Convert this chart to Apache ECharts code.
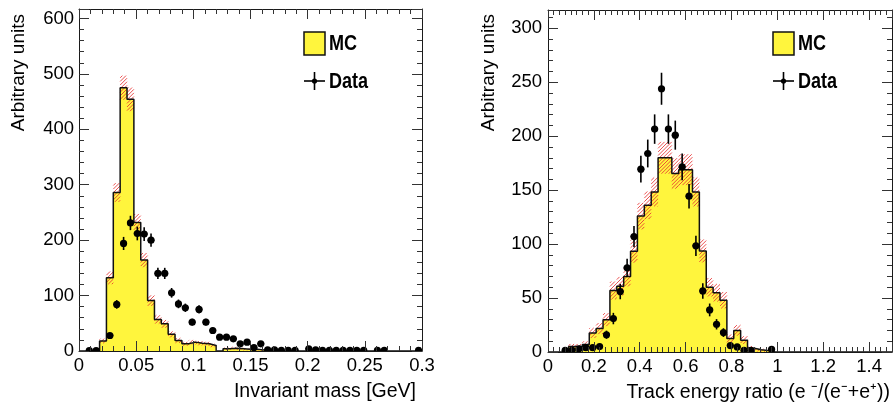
<!DOCTYPE html>
<html><head><meta charset="utf-8">
<script src="https://cdn.jsdelivr.net/npm/echarts@6/dist/echarts.min.js"></script>
<style>html,body{margin:0;padding:0;background:#fff}#c{width:894px;height:406px}</style>
</head><body><div id="c"></div>
<script>
// ---------- data ----------
// Invariant mass: 50 bins of width 0.006 GeV, starting at 0
const massBinWidth = 0.006;
const massMC = [0,0,0,18,132,286,475,454,232,164,
                91,57,49,30,19,13,16,14,13,10,
                0,4,5,4,3,3,2,0,0,0,
                0,0,0,0,0,0,0,0,0,0,
                0,0,0,0,0,0,0,0,0,0];
const massData = [null,0.5,0.5,null,28,84,194,231,212,211,
                  200,140,140,105,85,78,52,75,52,37,
                  25,25,22,13,16,6,13,2,2,1,
                  1,1,null,4,2,1,1,1,1,1,
                  1,1,null,1,1,null,null,null,null,1];
// Track energy ratio: 50 bins of width 0.03, starting at 0
const ratioBinWidth = 0.03;
const ratioMC = [0,0,1,5,5,7,17.7,21.7,30,57,
                 61,70,93.4,126,136,148.4,180,180,165.5,169,
                 169,148.4,93.7,60,55,48,12.4,20,11,3.5,
                 2,1.5,0,0,0,0,0,0,0,0,
                 0,0,0,0,0,0,0,0,0,0];
const ratioData = [null,null,1.5,1.5,3,4,4,5,16,31,
                   56,78,107,169.5,184,206.6,244,206.6,201,171.6,
                   144.4,98.4,56.6,39,25.7,18,6,4.7,1.5,1.5,
                   null,null,2.5,null,null,null,null,null,null,null,
                   null,null,null,null,null,null,null,null,null,null];
// tick labels
const massXLabels = ['0','0.05','0.1','0.15','0.2','0.25','0.3'];
const massYLabels = ['0','100','200','300','400','500','600'];
const ratioXLabels = ['0','0.2','0.4','0.6','0.8','1','1.2','1.4'];
const ratioYLabels = ['0','50','100','150','200','250','300'];
const legendNames = ['MC','Data'];
const xTitles = ['Invariant mass [GeV]', 'Track energy ratio (e \u207B/(e\u207B+e\u207A))'];
const yTitle = 'Arbitrary units';

// ---------- styling ----------
const FONT = '"Liberation Sans", Arial, Helvetica, sans-serif';
const YELLOW = '#fff53d';
const HATCH = 'rgba(230,50,50,0.85)';
const panels = [
  {mc: massMC, data: massData, bw: massBinWidth, x:{min:0,max:0.3,major:0.05,minor:0.01}, y:{min:0,max:617,major:100,minor:20},
   xl: massXLabels, yl: massYLabels, errK: 0.85, bandK: 1.0},
  {mc: ratioMC, data: ratioData, bw: ratioBinWidth, x:{min:0,max:1.5,major:0.2,minor:0.025}, y:{min:0,max:317,major:50,minor:10},
   xl: ratioXLabels, yl: ratioYLabels, errK: 0.95, bandK: 1.1}
];

function fmt(v){ return String(+v.toFixed(4)); }

function axisSet(dim, gi, r, labels, margin) {
  const pos = dim === 'x' ? ['bottom','top'] : ['left','right'];
  const out = [];
  pos.forEach(p => {
    const common = {type:'value', gridIndex:gi, min:r.min, max:r.max, position:p, z:10, splitLine:{show:false}, axisPointer:{show:false}};
    out.push(Object.assign({}, common, {
      interval: r.minor,
      axisLine:{show:true, onZero:false, lineStyle:{color:'#1a1a1a', width:1}},
      axisTick:{show:true, inside:true, length:5, lineStyle:{color:'#333', width:1}},
      axisLabel:{show:false}
    }));
    out.push(Object.assign({}, common, {
      interval: r.major,
      axisLine:{show:false, onZero:false},
      axisTick:{show:true, inside:true, length:10, lineStyle:{color:'#333', width:1}},
      axisLabel:{show: p==='bottom' || p==='left', margin: margin, color:'#000', fontSize:18.5, fontFamily: FONT,
        formatter: v => { const s = fmt(v); return labels.indexOf(s) >= 0 ? s : ''; }}
    }));
  });
  return out;
}

const xAxes = [], yAxes = [], series = [];
panels.forEach((P, gi) => {
  xAxes.push(...axisSet('x', gi, P.x, P.xl, 5));
  yAxes.push(...axisSet('y', gi, P.y, P.yl, gi === 0 ? 5 : 6));
  const xi = gi*4 + 1, yi = gi*4 + 1;
  // histogram outline points
  const pts = [[P.x.min, 0]];
  P.mc.forEach((v, i) => { pts.push([i*P.bw, v]); pts.push([(i+1)*P.bw, v]); });
  pts.push([P.mc.length*P.bw, 0]);
  series.push({type:'line', xAxisIndex:xi, yAxisIndex:yi, data:pts, symbol:'none', z:1, silent:true,
    lineStyle:{width:0, opacity:0}, areaStyle:{color:YELLOW, opacity:1}});
  // MC uncertainty band (hatched)
  const band = [];
  P.mc.forEach((v, i) => { if (v > 0) { const e = P.bandK*Math.sqrt(v); band.push([i*P.bw, (i+1)*P.bw, Math.max(0, v-e), v+e]); } });
  series.push({type:'custom', xAxisIndex:xi, yAxisIndex:yi, data:band, z:2, silent:true, clip:true,
    encode:{x:[0,1], y:[2,3]},
    renderItem: (params, api) => {
      const a = api.coord([api.value(0), api.value(3)]);
      const b = api.coord([api.value(1), api.value(2)]);
      const x0 = a[0], x1 = b[0], yT = a[1], yB = b[1];
      const s = 3.6, kids = [];
      const cStart = Math.ceil((x0 + yT)/s)*s;
      for (let c = cStart; c <= x1 + yB; c += s) {
        const lo = Math.max(x0, c - yB), hi = Math.min(x1, c - yT);
        if (hi - lo > 0.3) kids.push({type:'line', shape:{x1:lo, y1:c-lo, x2:hi, y2:c-hi}, style:{stroke:HATCH, lineWidth:1}});
      }
      return {type:'group', children:kids};
    }});
  series.push({type:'line', xAxisIndex:xi, yAxisIndex:yi, data:pts, symbol:'none', z:3, silent:true,
    lineStyle:{color:'#111', width:1.5}});
  // data points with error bars
  const dp = [];
  P.data.forEach((v, i) => { if (v !== null) dp.push([(i+0.5)*P.bw, v, P.errK*Math.sqrt(v), P.bw/2]); });
  series.push({type:'custom', xAxisIndex:xi, yAxisIndex:yi, data:dp, z:4, silent:true, clip:true,
    encode:{x:0, y:1},
    renderItem: (params, api) => {
      const x = api.value(0), y = api.value(1), e = api.value(2), h = api.value(3);
      const c = api.coord([x, y]);
      const t = api.coord([x, y+e]), bo = api.coord([x, Math.max(0, y-e)]);
      const l = api.coord([x-h, y]), r = api.coord([x+h, y]);
      return {type:'group', children:[
        {type:'line', shape:{x1:c[0], y1:t[1], x2:c[0], y2:bo[1]}, style:{stroke:'#000', lineWidth:1.6}},
        {type:'line', shape:{x1:l[0], y1:c[1], x2:r[0], y2:c[1]}, style:{stroke:'#000', lineWidth:1.6}},
        {type:'circle', shape:{cx:c[0], cy:c[1], r:3.6}, style:{fill:'#000'}}
      ]};
    }});
});

// legends and titles
function legend(x0) {
  return [
    {type:'rect', shape:{x:x0, y:32, width:21, height:23}, style:{fill:YELLOW, stroke:'#111', lineWidth:1.5}, z:20},
    {type:'text', x:x0+25, y:44, scaleX:0.82, style:{text:legendNames[0], font:'bold 22px '+FONT, fill:'#000', align:'left', verticalAlign:'middle', textAlign:'left', textVerticalAlign:'middle'}, z:20},
    {type:'line', shape:{x1:x0, y1:81, x2:x0+21, y2:81}, style:{stroke:'#000', lineWidth:1.6}, z:20},
    {type:'line', shape:{x1:x0+10.5, y1:72, x2:x0+10.5, y2:90}, style:{stroke:'#000', lineWidth:1.6}, z:20},
    {type:'circle', shape:{cx:x0+10.5, cy:81, r:2.6}, style:{fill:'#000'}, z:20},
    {type:'text', x:x0+25, y:82, scaleX:0.82, style:{text:legendNames[1], font:'bold 22px '+FONT, fill:'#000', align:'left', verticalAlign:'middle', textAlign:'left', textVerticalAlign:'middle'}, z:20}
  ];
}
const graphics = [].concat(
  legend(304), legend(773),
  [
    {type:'text', x:19, y:14, rotation:Math.PI/2, style:{text:yTitle, font:'19px '+FONT, fill:'#000', align:'right', verticalAlign:'middle', textAlign:'right', textVerticalAlign:'middle'}},
    {type:'text', x:489, y:14, rotation:Math.PI/2, style:{text:yTitle, font:'19px '+FONT, fill:'#000', align:'right', verticalAlign:'middle', textAlign:'right', textVerticalAlign:'middle'}},
    {type:'text', x:416, y:392, style:{text:xTitles[0], font:'19.5px '+FONT, fill:'#000', align:'right', verticalAlign:'middle', textAlign:'right', textVerticalAlign:'middle'}},
    {type:'text', x:890, y:393, style:{text:xTitles[1], font:'19.5px '+FONT, fill:'#000', align:'right', verticalAlign:'middle', textAlign:'right', textVerticalAlign:'middle'}}
  ]);

const chart = echarts.init(document.getElementById('c'), null, {renderer:'canvas'});
chart.setOption({
  animation:false,
  backgroundColor:'#fff',
  grid:[
    {left:79, top:9, width:343, height:342, outerBoundsMode:'none', containLabel:false},
    {left:548, top:10, width:344, height:342, outerBoundsMode:'none', containLabel:false}
  ],
  xAxis: xAxes,
  yAxis: yAxes,
  series: series,
  graphic: {elements: graphics}
});
</script></body></html>
